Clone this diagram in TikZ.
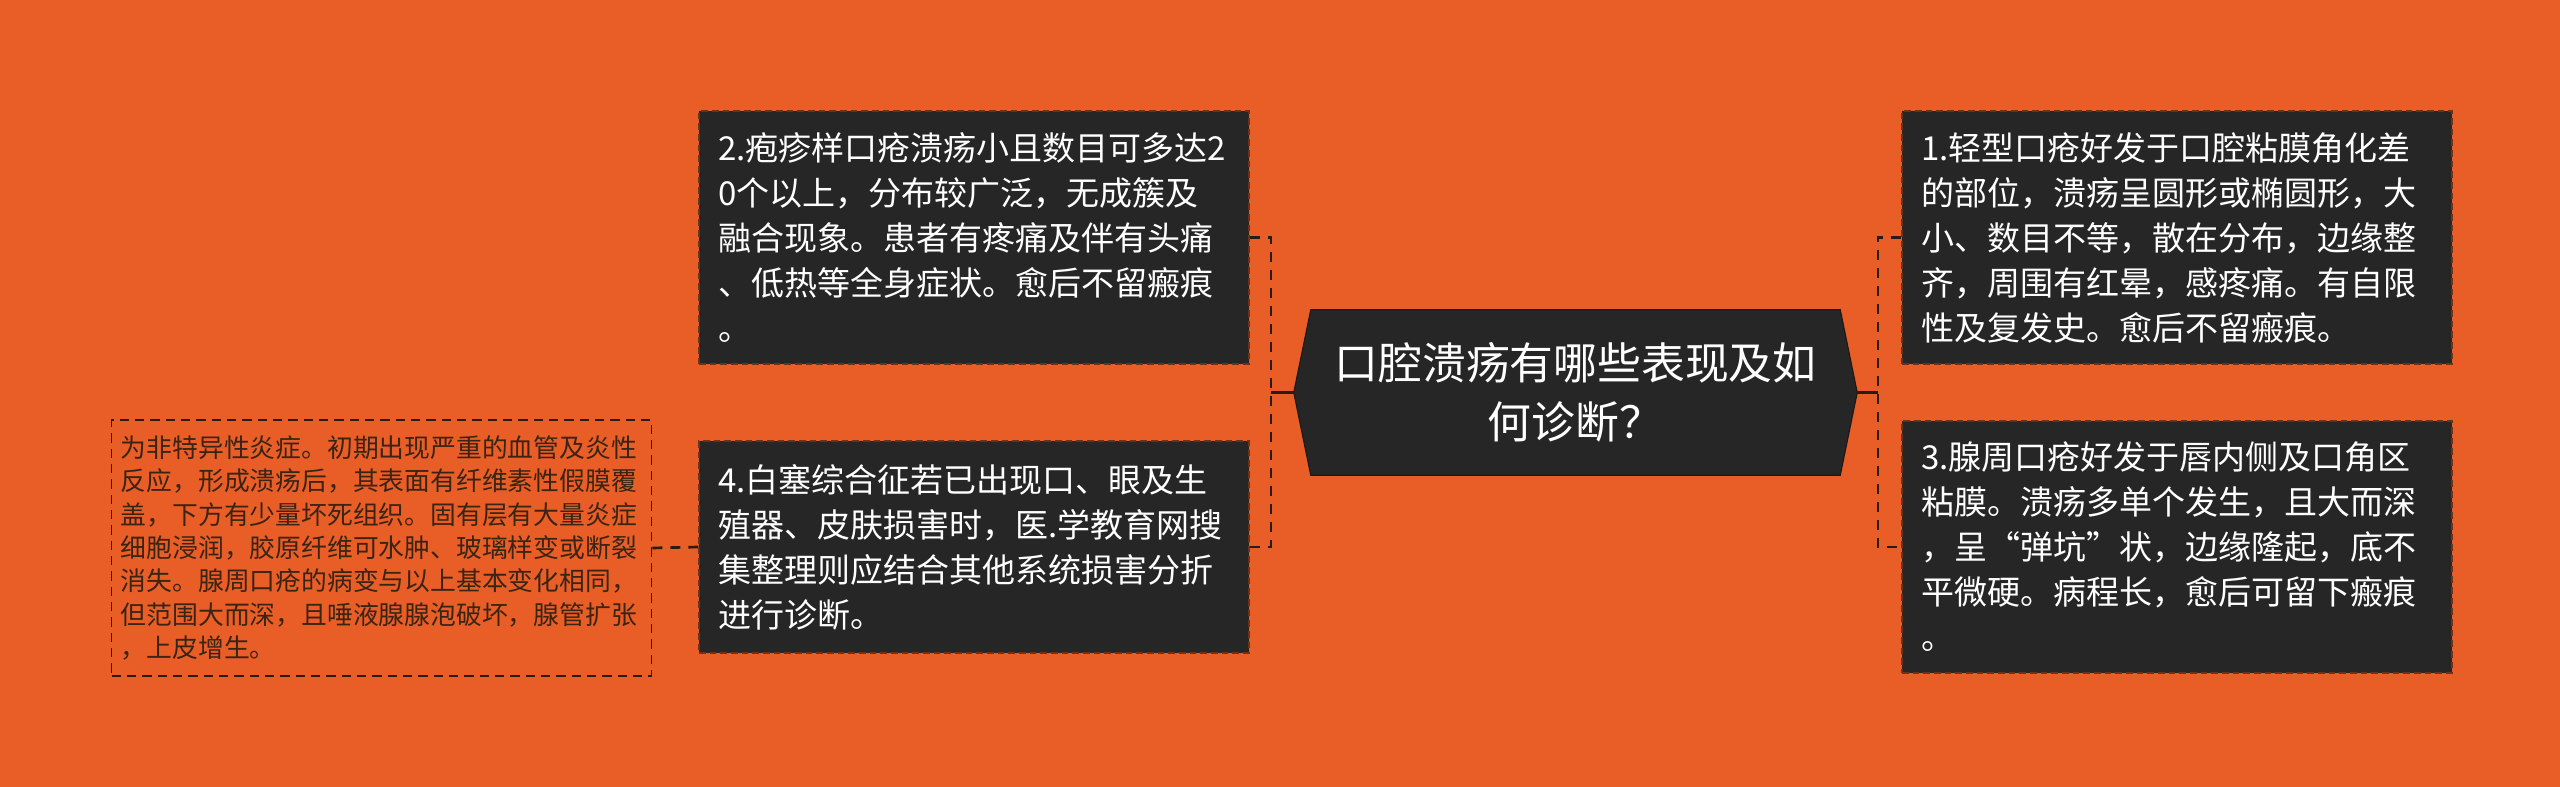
\documentclass[tikz,border=0pt]{standalone}
\usepackage{fontspec}
\setmainfont{Noto Sans CJK SC}
\usetikzlibrary{calc,backgrounds}
\definecolor{bgor}{HTML}{E95D27}
\definecolor{boxdk}{HTML}{262626}
\definecolor{boxedge}{HTML}{6B3418}
\definecolor{lnk}{HTML}{2A1C14}
\definecolor{leaftxt}{HTML}{3A2414}
\tikzset{
  mainbox/.style={rectangle, fill=boxdk, draw=boxedge, line width=1pt,
    dash pattern=on 5pt off 3pt, text=white, align=left,
    text width=384pt, inner xsep=14.25pt, inner ysep=0pt,
    font=\fontsize{24.75pt}{33.75pt}\selectfont},
  leafbox/.style={rectangle, fill=bgor, draw=lnk, line width=1.1pt,
    dash pattern=on 7pt off 4.5pt, text=leaftxt, align=left,
    text width=391pt, inner xsep=7pt, inner ysep=0pt,
    minimum height=192pt,
    font=\fontsize{19.35pt}{25.1pt}\selectfont},
  centerbox/.style={rectangle, draw=none, text=white, align=center,
    minimum width=396.75pt, minimum height=123.75pt, inner sep=0pt,
    font=\fontsize{32.85pt}{44.25pt}\selectfont},
  link/.style={draw=lnk, line width=2pt, dash pattern=on 7.5pt off 6pt},
  trunk/.style={draw=lnk, line width=2pt}
}
\begin{document}
\begin{tikzpicture}[x=0.75pt,y=-0.75pt]
\useasboundingbox (0,0) rectangle (2560,787);
\begin{scope}[on background layer]
  \fill[bgor] (0,0) rectangle (2560,787);
\end{scope}

\node[centerbox] (c) at (1575.5,392.5) {口腔溃疡有哪些表现及如\\何诊断？};
\coordinate (cw) at ($(c.west)+(-17,0)$);
\coordinate (ce) at ($(c.east)+(17,0)$);
\begin{scope}[on background layer]
  \filldraw[fill=boxdk, draw=black!90, line width=0.8pt]
    (c.north west) -- (c.north east) -- (ce) -- (c.south east)
    -- (c.south west) -- (cw) -- cycle;
\end{scope}

\node[mainbox, minimum height=189.75pt] (n2) at (974,237.5) {2.疱疹样口疮溃疡小且数目可多达2\\0个以上，分布较广泛，无成簇及\\融合现象。患者有疼痛及伴有头痛\\、低热等全身症状。愈后不留瘢痕\\。};
\node[mainbox, minimum height=159pt] (n4) at (974,547) {4.白塞综合征若已出现口、眼及生\\殖器、皮肤损害时，医.学教育网搜\\集整理则应结合其他系统损害分折\\进行诊断。};
\node[mainbox, minimum height=189.75pt] (n1) at (2177,237.5) {1.轻型口疮好发于口腔粘膜角化差\\的部位，溃疡呈圆形或椭圆形，大\\小、数目不等，散在分布，边缘整\\齐，周围有红晕，感疼痛。有自限\\性及复发史。愈后不留瘢痕。};
\node[mainbox, minimum height=189pt] (n3) at (2177,547) {3.腺周口疮好发于唇内侧及口角区\\粘膜。溃疡多单个发生，且大而深\\，呈“弹坑”状，边缘隆起，底不\\平微硬。病程长，愈后可留下瘢痕\\。};
\node[leafbox] (leaf) at (381.5,548) {为非特异性炎症。初期出现严重的血管及炎性\\反应，形成溃疡后，其表面有纤维素性假膜覆\\盖，下方有少量坏死组织。固有层有大量炎症\\细胞浸润，胶原纤维可水肿、玻璃样变或断裂\\消失。腺周口疮的病变与以上基本变化相同，\\但范围大而深，且唾液腺腺泡破坏，腺管扩张\\，上皮增生。};

\coordinate (bl) at (1271,392.5);
\coordinate (br) at (1878,392.5);
\draw[trunk] (cw) -- (bl);
\draw[trunk] (ce) -- (br);
\draw[link] (n2.east) -- (n2.east -| bl) -- (n4.east -| bl) -- (n4.east);
\draw[link] (n1.west) -- (n1.west -| br) -- (n3.west -| br) -- (n3.west);
\draw[link] (n4.west) -- (leaf.east);
\end{tikzpicture}
\end{document}
